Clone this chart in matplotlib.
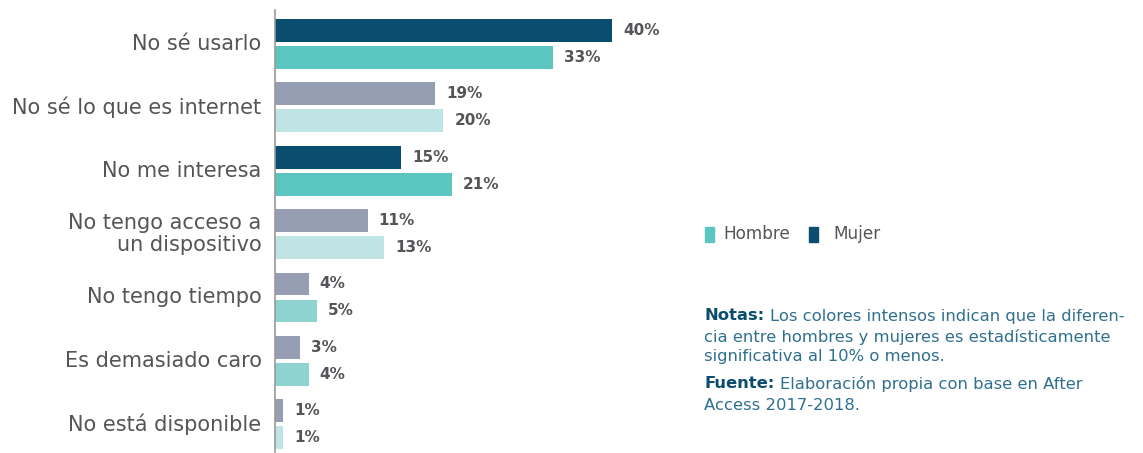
import numpy as np
import matplotlib.pyplot as plt

plt.rcParams['font.family'] = ['DejaVu Sans']

categorias = ["No sé usarlo", "No sé lo que es internet", "No me interesa",
              "No tengo acceso a\nun dispositivo", "No tengo tiempo",
              "Es demasiado caro", "No está disponible"]
mujer = [40, 19, 15, 11, 4, 3, 1]
hombre = [33, 20, 21, 13, 5, 4, 1]

# intense colours where the difference is significant
col_mujer = ["#0b4d6e", "#959eb3", "#0b4d6e", "#959eb3", "#959eb3", "#959eb3", "#959eb3"]
col_hombre = ["#5bc6c0", "#c0e4e3", "#5bc6c0", "#c0e4e3", "#8fd3d0", "#8fd3d0", "#c0e4e3"]

gris = "#555559"
azul = "#0b4d6e"
nota_col = "#2f6f8f"

fig = plt.figure(figsize=(11.43, 4.53), dpi=100)
ax = fig.add_axes([0.2406, 0.002, 0.3684, 0.976])

y = np.arange(len(categorias))
h = 0.36
off = 0.213
ax.barh(y - off, mujer, height=h, color=col_mujer)
ax.barh(y + off, hombre, height=h, color=col_hombre)

for i in range(len(categorias)):
    ax.text(mujer[i] + 1.3, y[i] - off, "%d%%" % mujer[i], va="center", ha="left",
            fontsize=11, fontweight="bold", color=gris)
    ax.text(hombre[i] + 1.3, y[i] + off, "%d%%" % hombre[i], va="center", ha="left",
            fontsize=11, fontweight="bold", color=gris)
    ax.text(-1.6, y[i], categorias[i], va="center", ha="right", fontsize=15,
            color=gris, linespacing=1.12)

ax.set_xlim(0, 50)
ax.set_ylim(6.44, -0.537)
ax.set_xticks([])
ax.set_yticks([])
for s in ["top", "right", "bottom"]:
    ax.spines[s].set_visible(False)
ax.spines["left"].set_color("#999999")
ax.spines["left"].set_linewidth(1.2)

# legend
fig.patches.append(plt.Rectangle((705/1143, 1 - 242/453), 9/1143, 15/453,
                                 transform=fig.transFigure, color="#5bc6c0"))
fig.text(723/1143, 1 - 234/453, "Hombre", va="center", fontsize=12.2, color=gris)
fig.patches.append(plt.Rectangle((809/1143, 1 - 242/453), 9/1143, 15/453,
                                 transform=fig.transFigure, color=azul))
fig.text(833/1143, 1 - 234/453, "Mujer", va="center", fontsize=12.2, color=gris)

# notes: bold heading followed by regular text on the same line
fs = 11.8
x0 = 704/1143
renderer = fig.canvas.get_renderer()


def nota(y_px, head, rest):
    t = fig.text(x0, 1 - y_px/453, head, va="center", fontsize=fs,
                 fontweight="bold", color=azul)
    w = t.get_window_extent(renderer).width
    fig.text(x0 + (w + 6)/1143, 1 - y_px/453, rest, va="center",
             fontsize=fs, color=nota_col)


nota(316, "Notas:", "Los colores intensos indican que la diferen-")
fig.text(x0, 1 - 337/453, "cia entre hombres y mujeres es estadísticamente",
         va="center", fontsize=fs, color=nota_col)
fig.text(x0, 1 - 357/453, "significativa al 10% o menos.",
         va="center", fontsize=fs, color=nota_col)
nota(384, "Fuente:", "Elaboración propia con base en After")
fig.text(x0, 1 - 405/453, "Access 2017-2018.",
         va="center", fontsize=fs, color=nota_col)

fig.savefig("out.png", dpi=100)
